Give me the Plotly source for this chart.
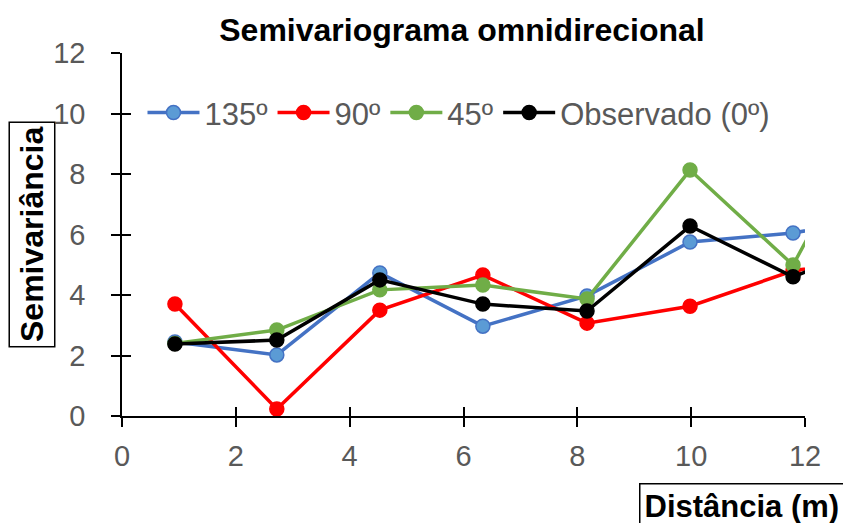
import plotly.graph_objects as go

distancia = [0.93, 2.72, 4.53, 6.34, 8.17, 9.98, 11.79, 13.6]
s135 = [2.45, 2.02, 4.73, 2.97, 3.97, 5.75, 6.05, 6.65]
s90 = [3.70, 0.23, 3.50, 4.66, 3.07, 3.63, 4.80, 5.3]
s45 = [2.40, 2.84, 4.17, 4.33, 3.87, 8.13, 4.99, 11.3]
s0 = [2.38, 2.51, 4.50, 3.70, 3.47, 6.28, 4.60, 5.95]

series = [
    ("135º", s135, "#4472C4", "#5B9BD5"),
    ("90º", s90, "#FF0000", "#FF0000"),
    ("45º", s45, "#70AD47", "#70AD47"),
    ("Observado (0º)", s0, "#000000", "#000000"),
]

fig = go.Figure()
for name, vals, lc, mc in series:
    fig.add_trace(go.Scatter(
        x=distancia, y=vals, name=name, mode="lines+markers",
        line=dict(color=lc, width=3.5),
        marker=dict(color=mc, size=14, line=dict(color=lc, width=1.5)),
        cliponaxis=True,
    ))

FONT = "Liberation Sans, Arial"
tickfont = dict(family=FONT, size=29, color="#595959")
ticks = [0, 2, 4, 6, 8, 10, 12]

fig.update_layout(
    width=851, height=523,
    margin=dict(l=114, r=54, t=45, b=115, autoexpand=False),
    paper_bgcolor="white", plot_bgcolor="white",
    title=dict(text="<b>Semivariograma omnidirecional</b>", x=0.4978, xref="paper",
               xanchor="center", y=0.959, yanchor="middle",
               font=dict(family=FONT, size=32, color="black")),
    xaxis=dict(range=[0, 12], tickvals=ticks, showgrid=False,
               showline=True, linecolor="black", linewidth=1.5,
               ticks="outside", ticklen=9, tickcolor="black", tickwidth=1.5,
               tickfont=tickfont, ticklabelstandoff=4, zeroline=False),
    yaxis=dict(range=[0, 12], tickvals=ticks, showgrid=False,
               showline=True, linecolor="black", linewidth=1.5,
               ticks="outside", ticklen=9, tickcolor="black", tickwidth=1.5,
               tickfont=tickfont, ticklabelstandoff=20, zeroline=False),
    xaxis2=dict(range=[0, 12], tickvals=ticks, overlaying="x",
                side="bottom", anchor="y", showgrid=False, showticklabels=False,
                ticks="inside", ticklen=9, tickcolor="black", tickwidth=1.5,
                zeroline=False),
    yaxis2=dict(range=[0, 12], tickvals=ticks, overlaying="y",
                side="left", anchor="x", showgrid=False, showticklabels=False,
                ticks="inside", ticklen=9, tickcolor="black", tickwidth=1.5,
                zeroline=False),
    legend=dict(orientation="h", x=0.03, y=0.835, xanchor="left", yanchor="middle",
                font=dict(family=FONT, size=31, color="#595959"),
                bgcolor="rgba(0,0,0,0)", itemwidth=52, tracegroupgap=0),
    showlegend=True,
    annotations=[
        dict(text="<b>Semivariância</b>", textangle=-90, xref="paper", yref="paper",
             x=-0.1318, y=0.5, xanchor="center", yanchor="middle", showarrow=False,
             font=dict(family=FONT, size=32, color="black"),
             bordercolor="black", borderwidth=1.5, borderpad=4, bgcolor="white"),
        dict(text="<b>Distância (m)</b>", xref="paper", yref="paper",
             x=1.059, y=-0.1846, xanchor="right", yanchor="top", showarrow=False,
             font=dict(family=FONT, size=31, color="black"),
             bordercolor="black", borderwidth=1.5, borderpad=4, bgcolor="white"),
    ],
)
fig.add_trace(go.Scatter(x=[None], y=[None], xaxis="x2", yaxis="y2", showlegend=False,
                         hoverinfo="skip"))

fig.write_html("out.html")
